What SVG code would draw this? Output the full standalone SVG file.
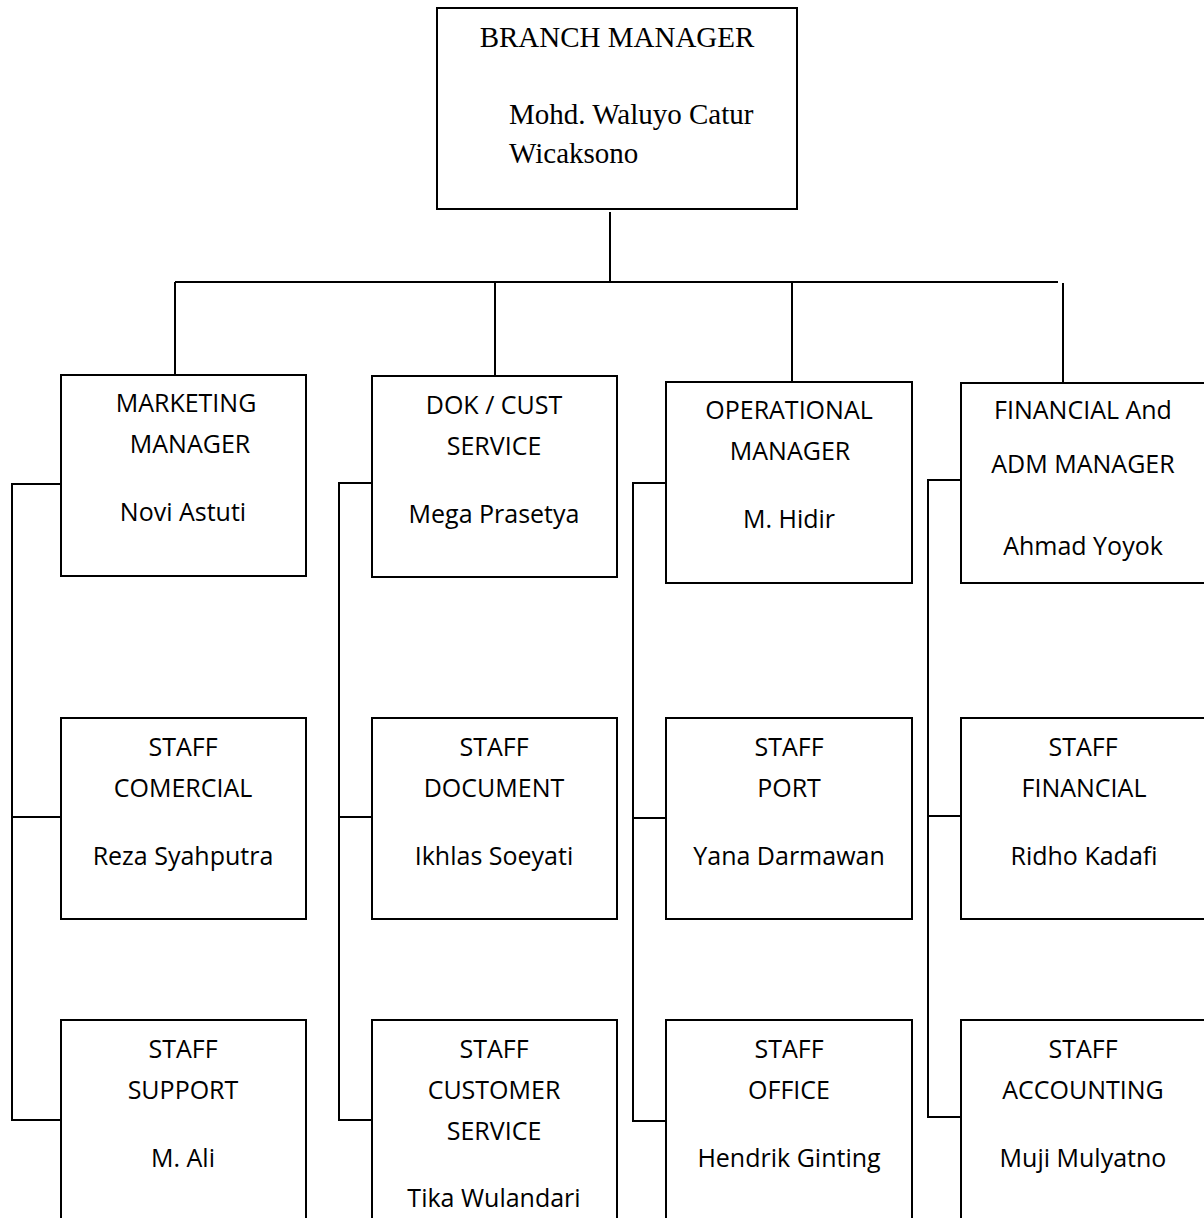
<svg xmlns="http://www.w3.org/2000/svg" width="1204" height="1218" viewBox="0 0 1204 1218">
<style>
.box{fill:#fff;stroke:#000;stroke-width:2}
.ln{fill:none;stroke:#000;stroke-width:2}
.s{font-family:"Open Sans","Liberation Sans",sans-serif;font-size:25px;fill:#000;text-anchor:middle}
.t{font-family:"Liberation Serif","Times New Roman",serif;font-size:29px;fill:#000}
</style>
<rect width="1204" height="1218" fill="#fff"/>
<g id="connectors">
<path class="ln" d="M610 212V282M175 282H1058M175 282V376M495 282V377M792 282V383M1063 283V383"/>
<path class="ln" d="M61 484H12V1120H61M12 817H61"/>
<path class="ln" d="M372 483H339V1120H372M339 817H372"/>
<path class="ln" d="M666 483H633V1121H666M633 818H666"/>
<path class="ln" d="M961 480H928V1117H961M928 816H961"/>
</g>
<g id="branch-manager">
<rect class="box" x="437" y="8" width="360" height="201"/>
<text class="t" x="617" y="47" text-anchor="middle">BRANCH MANAGER</text>
<text class="t" x="509" y="124">Mohd. Waluyo Catur</text>
<text class="t" x="509" y="163">Wicaksono</text>
</g>
<g id="marketing-manager">
<rect class="box" x="61" y="375" width="245" height="201"/>
<text class="s" x="186" y="412">MARKETING</text>
<text class="s" x="190" y="453">MANAGER</text>
<text class="s" x="183" y="521">Novi Astuti</text>
</g>
<g id="dok-cust-service">
<rect class="box" x="372" y="376" width="245" height="201"/>
<text class="s" x="494" y="414">DOK / CUST</text>
<text class="s" x="494" y="455">SERVICE</text>
<text class="s" x="494" y="523">Mega Prasetya</text>
</g>
<g id="operational-manager">
<rect class="box" x="666" y="382" width="246" height="201"/>
<text class="s" x="789" y="419">OPERATIONAL</text>
<text class="s" x="790" y="460">MANAGER</text>
<text class="s" x="789" y="528">M. Hidir</text>
</g>
<g id="financial-adm-manager">
<rect class="box" x="961" y="383" width="260" height="200"/>
<text class="s" x="1083" y="419">FINANCIAL And</text>
<text class="s" x="1083" y="473">ADM MANAGER</text>
<text class="s" x="1083" y="555">Ahmad Yoyok</text>
</g>
<g id="staff-comercial">
<rect class="box" x="61" y="718" width="245" height="201"/>
<text class="s" x="183" y="756">STAFF</text>
<text class="s" x="183" y="797">COMERCIAL</text>
<text class="s" x="183" y="865">Reza Syahputra</text>
</g>
<g id="staff-document">
<rect class="box" x="372" y="718" width="245" height="201"/>
<text class="s" x="494" y="756">STAFF</text>
<text class="s" x="494" y="797">DOCUMENT</text>
<text class="s" x="494" y="865">Ikhlas Soeyati</text>
</g>
<g id="staff-port">
<rect class="box" x="666" y="718" width="246" height="201"/>
<text class="s" x="789" y="756">STAFF</text>
<text class="s" x="789" y="797">PORT</text>
<text class="s" x="789" y="865">Yana Darmawan</text>
</g>
<g id="staff-financial">
<rect class="box" x="961" y="718" width="260" height="201"/>
<text class="s" x="1083" y="756">STAFF</text>
<text class="s" x="1084" y="797">FINANCIAL</text>
<text class="s" x="1084" y="865">Ridho Kadafi</text>
</g>
<g id="staff-support">
<rect class="box" x="61" y="1020" width="245" height="220"/>
<text class="s" x="183" y="1058">STAFF</text>
<text class="s" x="183" y="1099">SUPPORT</text>
<text class="s" x="183" y="1167">M. Ali</text>
</g>
<g id="staff-customer-service">
<rect class="box" x="372" y="1020" width="245" height="220"/>
<text class="s" x="494" y="1058">STAFF</text>
<text class="s" x="494" y="1099">CUSTOMER</text>
<text class="s" x="494" y="1140">SERVICE</text>
<text class="s" x="494" y="1207">Tika Wulandari</text>
</g>
<g id="staff-office">
<rect class="box" x="666" y="1020" width="246" height="220"/>
<text class="s" x="789" y="1058">STAFF</text>
<text class="s" x="789" y="1099">OFFICE</text>
<text class="s" x="789" y="1167">Hendrik Ginting</text>
</g>
<g id="staff-accounting">
<rect class="box" x="961" y="1020" width="260" height="220"/>
<text class="s" x="1083" y="1058">STAFF</text>
<text class="s" x="1083" y="1099">ACCOUNTING</text>
<text class="s" x="1083" y="1167">Muji Mulyatno</text>
</g>
</svg>
